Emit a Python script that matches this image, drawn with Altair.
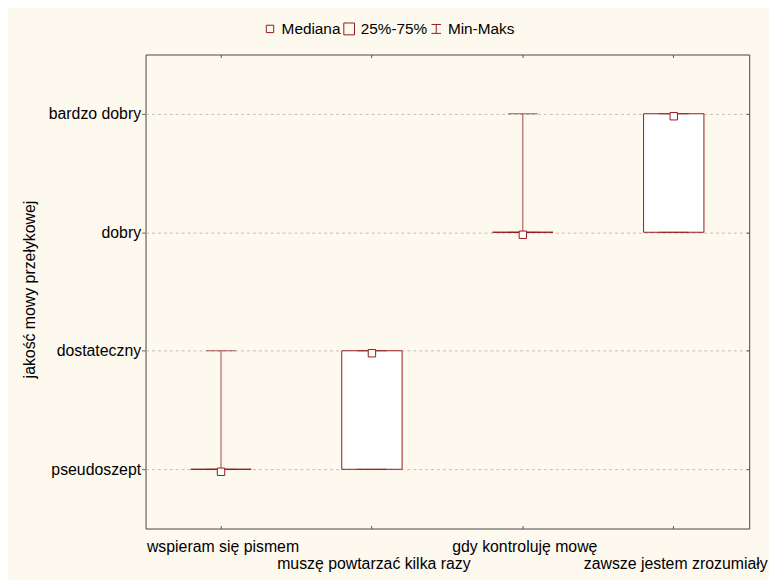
import json
import altair as alt
import pandas as pd

# ---- data ----
categories = ["wspieram się pismem", "muszę powtarzać kilka  razy",
              "gdy kontroluję mowę", "zawsze jestem zrozumiały"]
level_names = ["pseudoszept", "dostateczny", "dobry", "bardzo dobry"]  # 1..4
median = [1, 2, 3, 4]
q25 = [1, 1, 3, 3]
q75 = [1, 2, 3, 4]
vmin = [1, 1, 3, 3]
vmax = [2, 2, 4, 4]
legend_items = ["Mediana", "25%-75%", "Min-Maks"]

RED = "#921A1A"
CREAM = "#FDF9EE"
FONT = "Liberation Sans"
FS = 16

df = pd.DataFrame(dict(cat=categories, median=median, q25=q25, q75=q75,
                       vmin=vmin, vmax=vmax))

y_scale = alt.Scale(domain=[0.5, 4.5], nice=False, zero=False)
x_scale = alt.Scale(paddingInner=0, paddingOuter=0)

y_label_expr = json.dumps([""] + level_names, ensure_ascii=False) + "[datum.value]"
second_row = [categories[1], categories[3]]
x_label_expr = ("indexof(" + json.dumps(second_row, ensure_ascii=False) +
                ", datum.value) >= 0 ? ['', datum.value] : datum.value")

x_main_axis = alt.Axis(orient="bottom", title=None, offset=-3, tickSize=3,
                       tickColor="#555", domain=False, grid=False, labelAngle=0,
                       labelOverlap=False, labelLimit=0, labelFontSize=FS,
                       labelColor="black", labelPadding=23, labelOffset=2,
                       labelBaseline="alphabetic", labelLineHeight=17,
                       labelExpr=x_label_expr)
x_top_axis = alt.Axis(orient="top", title=None, offset=-3, tickSize=3,
                      tickColor="#555", domain=False, grid=False, labels=False)
y_main_axis = alt.Axis(orient="left", title="jakość mowy przełykowej",
                       values=[1, 2, 3, 4], labelExpr=y_label_expr,
                       tickSize=4, tickColor="#666", domain=False,
                       grid=True, gridDash=[3, 3], gridColor="#BEBEBE",
                       labelFontSize=FS, labelColor="black", labelPadding=1,
                       titleFontSize=FS, titleColor="black",
                       titleFontWeight="normal", titleAngle=270,
                       titleX=-117, titleY=237, titleAlign="center",
                       titleBaseline="middle")
y_right_axis = alt.Axis(orient="right", title=None, values=[1, 2, 3, 4],
                        offset=-3, tickSize=3, tickColor="#555",
                        domain=False, grid=False, labels=False)

base = alt.Chart(df)

def xn(axis=None):
    return alt.X("cat:N", sort=categories, scale=x_scale, axis=axis)

boxes = base.mark_bar(width=61, fill="white", stroke=RED, strokeWidth=1).encode(
    x=xn(x_main_axis),
    y=alt.Y("q25:Q", scale=y_scale, axis=y_main_axis),
    y2="q75:Q",
)

whisk_hi = base.mark_rule(color=RED, strokeWidth=1, opacity=0.8).encode(
    x=xn(x_top_axis),
    y=alt.Y("q75:Q", scale=y_scale, axis=y_right_axis),
    y2="vmax:Q",
)
whisk_lo = base.mark_rule(color=RED, strokeWidth=1, opacity=0.8).encode(
    x=xn(), y=alt.Y("vmin:Q", scale=y_scale, axis=None), y2="q25:Q",
)
caps_lo = base.mark_tick(color=RED, size=30, thickness=1, opacity=0.75).encode(
    x=xn(), y=alt.Y("vmin:Q", scale=y_scale, axis=None),
)
caps_hi = base.mark_tick(color=RED, size=30, thickness=1, opacity=0.75).encode(
    x=xn(), y=alt.Y("vmax:Q", scale=y_scale, axis=None),
)
med = base.mark_point(shape="square", size=56, filled=True, fill="white",
                      stroke=RED, strokeWidth=1, opacity=1, yOffset=2.5).encode(
    x=xn(), y=alt.Y("median:Q", scale=y_scale, axis=None),
)

shape_paths = [
    "M-0.62,-0.62H0.62V0.62H-0.62Z",
    "M-0.9,-1H0.9V1H-0.9Z",
    "M-0.8,-0.75H0.8M0,-0.75V0.75M-0.8,0.75H0.8",
]
leg_df = pd.DataFrame({"item": legend_items})
legend_layer = alt.Chart(leg_df).transform_filter("false").mark_point(
    filled=False, size=144, color=RED, strokeWidth=1, opacity=1
).encode(
    shape=alt.Shape("item:N",
                    scale=alt.Scale(domain=legend_items, range=shape_paths),
                    legend=alt.Legend(orient="none", legendX=118, legendY=-34,
                                      direction="horizontal", columns=3,
                                      title=None, labelFontSize=15.5,
                                      labelColor="black", labelOffset=4,
                                      columnPadding=1, padding=0,
                                      symbolSize=144, symbolStrokeColor=RED,
                                      symbolStrokeWidth=1,
                                      symbolFillColor="transparent")),
)

chart = alt.layer(boxes, whisk_hi, whisk_lo, caps_lo, caps_hi, med,
                  legend_layer).resolve_axis(
    x="independent", y="independent"
).properties(
    width=610, height=479,
    autosize=alt.AutoSizeParams(type="none"),
    padding={"left": 139, "top": 44, "right": 20, "bottom": 49},
    background=CREAM,
).configure(font=FONT).configure_view(
    fill="white", stroke="#444", strokeWidth=1
).configure_axis(labelFont=FONT, titleFont=FONT).configure_legend(
    labelFont=FONT
)

chart.save("out.html", embed_options={"renderer": "svg", "actions": False})
